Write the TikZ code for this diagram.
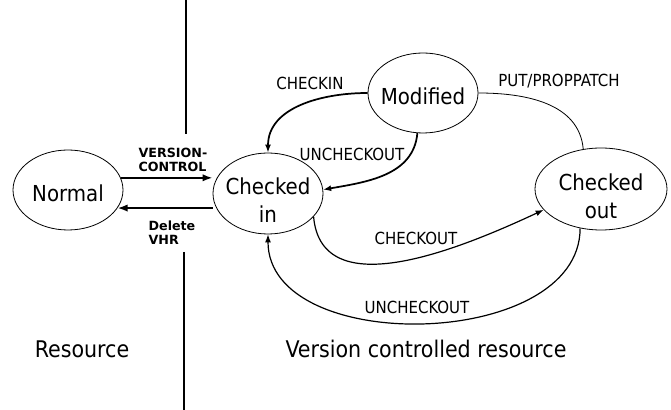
\documentclass[tikz,border=0pt]{standalone}
\usepackage{fontspec}
\setmainfont{DejaVu Sans Condensed}
\newfontfamily\widefont{DejaVu Sans}
\usetikzlibrary{shapes.geometric,arrows.meta}

\tikzset{
  state/.style={draw, ellipse, line width=0.6pt, inner sep=-6pt,
    minimum width=82.5pt, minimum height=60pt, align=center,
    font=\fontsize{16.5}{21}\selectfont},
  oneline/.style={text height=17.5pt},
  twoline/.style={text height=44pt},
  trans/.style={line width=1.4pt, -{Latex[length=7.5pt,width=5.5pt]}},
  bigcurve/.style={line width=1.3pt, -{Latex[length=6pt,width=4.5pt]}},
  midcurve/.style={line width=0.9pt, -{Latex[length=6pt,width=4.5pt]}},
  thincurve/.style={line width=0.6pt},
  divider/.style={line width=1.1pt},
  lbl/.style={font=\fontsize{12.5}{14}\selectfont},
  boldlbl/.style={align=left, font=\widefont\bfseries\fontsize{9.5}{10.5}\selectfont},
  caption/.style={font=\fontsize{17.2}{20}\selectfont}
}

\begin{document}
\begin{tikzpicture}[x=0.75pt,y=0.75pt]
  \fill[white] (0,0) rectangle (671,410);
  \useasboundingbox (0,0) rectangle (671,410);

  % states
  \node[state, oneline] (norm) at (68,220) {Normal};
  \node[state, twoline, minimum height=60.75pt] (cin) at (268,216.5) {Checked\\in};
  \node[state, oneline] (mod) at (423,317) {Modified};
  \node[state, twoline, minimum width=99pt, minimum height=61.5pt] (cout) at (601,221) {Checked\\out};

  % dividing line
  \draw[divider] (186,410) -- (186,276);
  \draw[divider] (184,158) -- (184,0);

  % resource <-> version controlled
  \draw[trans] (norm.13) -- (norm.13 -| cin.west);
  \draw[trans] (cin.west |- norm.-20) -- (norm.-20);
  \node[boldlbl] (vc) at (173,250) {VERSION-\\CONTROL};
  \node[boldlbl] (del) at (172,177.5) {Delete\\VHR};

  % transitions
  \draw[bigcurve] (mod.west) to[out=180,in=90] (cin.north);
  \draw[bigcurve] (mod.-98) to[out=-95,in=10] (cin.4);
  \draw[thincurve] (mod.east) to[out=0,in=95] (cout.114);
  \draw[midcurve] (cin.-27) to[out=-85,in=205] (cout.200);
  \draw[midcurve] (cout.-118) to[out=-90,in=-90] (cin.south);

  \node[lbl] (ci) at (310,327) {CHECKIN};
  \node[lbl] (unco1) at (352,256) {UNCHECKOUT};
  \node[lbl] (put) at (559,329) {PUT/PROPPATCH};
  \node[lbl] (co) at (416,172) {CHECKOUT};
  \node[lbl] (unco2) at (417,103) {UNCHECKOUT};

  % areas
  \node[caption] (res) at (82,61) {Resource};
  \node[caption] (vcr) at (426,61) {Version controlled resource};
\end{tikzpicture}
\end{document}
